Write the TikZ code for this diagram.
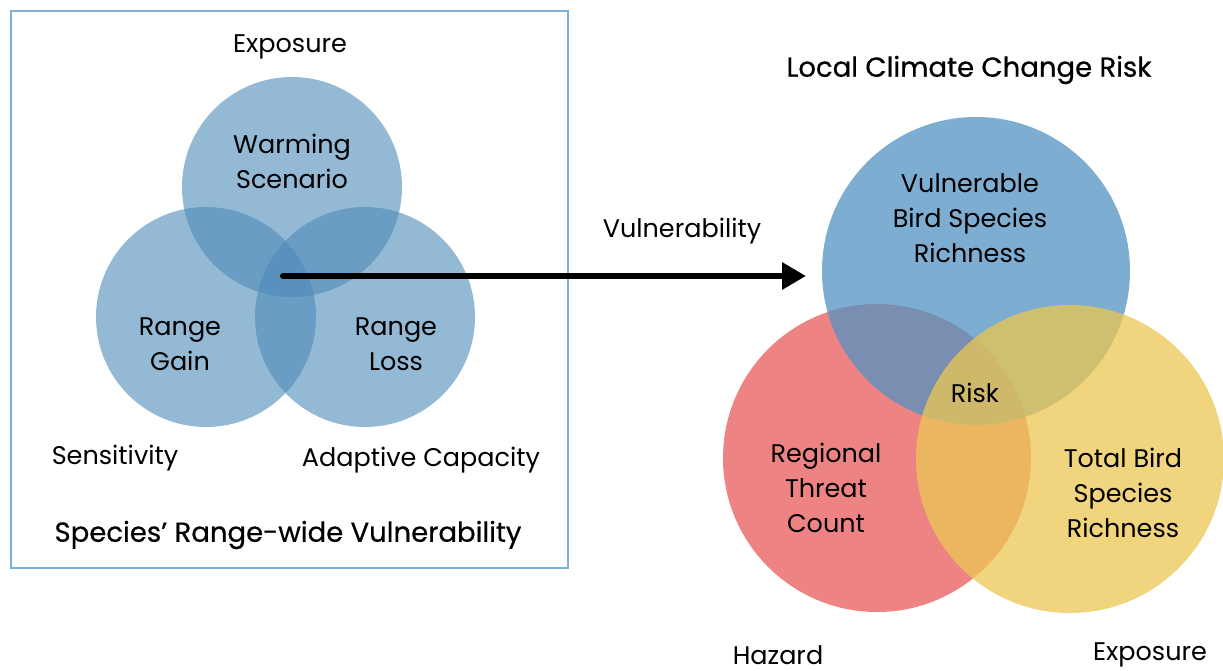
\documentclass[tikz,border=0pt]{standalone}
\usepackage{fontspec}
\setmainfont{Poppins}
\newfontfamily\medfont{Poppins}[FakeBold=0.6]
\usetikzlibrary{arrows.meta}
\definecolor{lblue}{RGB}{77,138,185}
\definecolor{boxblue}{RGB}{126,176,213}
\definecolor{rblue}{RGB}{82,146,192}
\definecolor{rred}{RGB}{232,90,90}
\definecolor{ryellow}{RGB}{235,199,83}
\tikzset{
  lcirc/.style={circle, fill=lblue, fill opacity=0.6, minimum size=220pt, inner sep=0pt},
  rcirc/.style={circle, fill opacity=0.75, minimum size=308pt, inner sep=0pt},
  lbl/.style={font=\fontsize{25.5}{35}\selectfont, align=center, text=black, inner sep=0pt},
  ttl/.style={font=\medfont\fontsize{27.5}{32}\selectfont, text=black, inner sep=0pt},
  vuarrow/.style={line width=6pt, line cap=round, -{Triangle[length=24pt,width=26pt]}}
}
\begin{document}
\begin{tikzpicture}[x=1pt,y=-1pt]
\useasboundingbox (0,0) rectangle (1223,671);
% left box
\node[draw=boxblue, line width=2pt, minimum width=557pt, minimum height=557pt, inner sep=0pt] (box) at (289.5,289.5) {};
% left circles
\node[lcirc] (top) at (292,187) {};
\node[lcirc] (gain) at (206,317) {};
\node[lcirc] (loss) at (365,317) {};
% left labels
\node[lbl] (exp1) at (290,47) {Exposure};
\node[lbl] (warm) at (292,161) {Warming\\Scenario};
\node[lbl] (rgain) at (180,344) {Range\\Gain};
\node[lbl] (rloss) at (396,344) {Range\\Loss};
\node[lbl] (sens) at (115,458) {Sensitivity};
\node[lbl] (adapt) at (421,460) {Adaptive Capacity};
\node[ttl] (srv) at (288,535) {Species’ Range-wide Vulnerability};
% right circles
\node[rcirc, fill=rred] (red) at (877,458) {};
\node[rcirc, fill=rblue] (blue) at (976,271) {};
\node[rcirc, fill=ryellow] (yel) at (1070,459) {};
% right labels
\node[ttl] (lccr) at (969,70) {Local Climate Change Risk};
\node[lbl] (vbsr) at (970,218) {Vulnerable\\Bird Species\\Richness};
\node[lbl] (risk) at (975,393) {Risk};
\node[lbl] (rtc) at (826,488) {Regional\\Threat\\Count};
\node[lbl] (tbsr) at (1123,493) {Total Bird\\Species\\Richness};
\node[lbl] (haz) at (778,655) {Hazard};
\node[lbl] (exp2) at (1150,655) {Exposure};
\node[lbl] (vul) at (682,231) {Vulnerability};
% arrow
\coordinate (vstart) at (283,276);
\coordinate (vend) at (806,276);
\draw[vuarrow] (vstart) -- (vend);
\end{tikzpicture}
\end{document}
